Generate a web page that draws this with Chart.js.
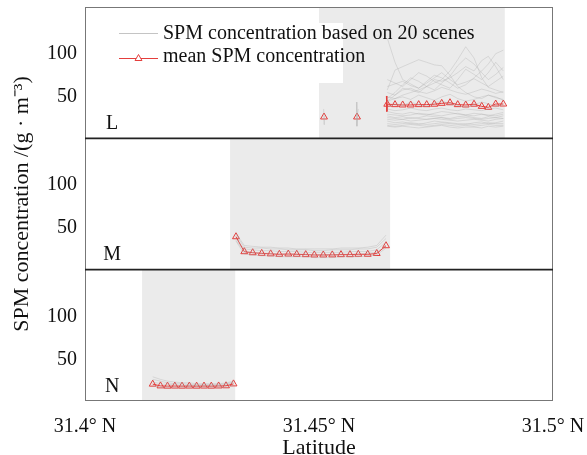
<!DOCTYPE html>
<html><head><meta charset="utf-8">
<script src="https://cdn.jsdelivr.net/npm/chart.js@4.4.1/dist/chart.umd.min.js"></script>
<style>html,body{margin:0;padding:0;background:#fff;}#wrap{width:587px;height:455px;}</style>
</head><body><div id="wrap"><canvas id="c" width="587" height="455"></canvas></div>
<script>
// ---------- data ----------
const xTickValues = [31.4, 31.45, 31.5];
const xTickLabels = ['31.4° N', '31.45° N', '31.5° N'];
const yTickValues = [50, 100];
const panelLetters = ['L', 'M', 'N'];
const legendLabels = ['SPM concentration based on 20 scenes', 'mean SPM concentration'];
const xTitle = 'Latitude';
const yTitle = 'SPM concentration /(g · m⁻³)';

// shaded latitude ranges of each panel
const shadeL = [31.4500, 31.4897];
const shadeM = [31.4310, 31.4652];
const shadeN = [31.4122, 31.4321];

// panel L
const latL = [31.46459, 31.46624, 31.46788, 31.46959, 31.47130, 31.47301, 31.47464, 31.47622,
              31.47799, 31.47964, 31.48135, 31.48312, 31.48477, 31.48618, 31.48776, 31.48938];
const meanL = [41.5, 41.0, 40.6, 40.6, 41.0, 41.0, 41.5, 42.5, 43.2, 41.0, 40.6, 41.5, 39.0, 37.9, 41.7, 41.7];
const spikeLat = [31.46440, 31.46450, 31.46462];
const spikeVal = [51, 33, 41.5];
const isoLat = [31.45107, 31.45812];
const isoMean = [26.7, 26.7];
const isoSceneLat1 = [31.45100, 31.45107, 31.45115];
const isoSceneVal1 = [36, 18, 28];
const isoSceneLat2 = [31.45800, 31.45810, 31.45825, 31.45840];
const isoSceneVal2 = [44, 16, 31, 36];
const sceneL = [
  [22,20,21,19,18,20,22,21,20,19,18,20,21,19,20,22],
  [16,15,16,15,14,15,16,17,15,14,15,15,14,16,15,16],
  [28,26,27,25,26,28,27,26,25,27,28,26,25,27,26,28],
  [33,31,30,32,30,29,31,33,32,30,29,31,30,28,30,32],
  [19,18,19,20,19,18,19,20,19,18,19,18,19,20,19,19],
  [45,48,50,47,52,49,46,50,53,48,45,47,50,52,49,47],
  [55,52,58,60,56,54,57,61,58,55,53,56,59,57,54,56],
  [38,42,40,44,41,39,43,45,42,40,38,41,44,42,39,41],
  [58,81,85,89,93,90,87,86,75,62,55,50,48,52,50,46],
  [50,48,52,55,58,62,66,70,80,93,108,95,72,61,58,55],
  [45,52,60,58,55,62,70,68,72,78,85,80,92,97,85,70],
  [118,90,70,65,60,68,75,72,66,60,64,72,80,88,100,104],
  [70,66,62,70,78,74,68,64,60,70,82,76,70,78,90,80],
  [24,23,24,22,23,24,25,24,23,22,23,24,23,22,24,25],
  [30,29,28,29,31,30,29,28,30,31,29,28,30,29,28,30],
  [36,34,35,37,35,34,36,37,35,34,36,35,34,36,37,35],
  [26,25,24,26,25,24,25,26,24,25,26,25,24,25,26,25],
  [62,65,68,63,60,66,72,78,70,64,67,71,66,62,68,74],
  [17,16,17,18,17,16,17,18,17,16,17,16,17,18,17,17],
  [48,55,64,72,68,62,58,66,74,86,95,88,78,70,76,84]
];

// panel M
const latM = [31.43226, 31.43404, 31.43583, 31.43776, 31.43968, 31.44152, 31.44344, 31.44524, 31.44716,
              31.44900, 31.45092, 31.45284, 31.45470, 31.45662, 31.45840, 31.46041, 31.46233, 31.46432];
const meanM = [40.1, 22.8, 21.6, 20.9, 20.3, 19.8, 20.1, 19.8, 19.4, 19.0, 19.0, 19.1, 19.4, 19.4, 19.8, 19.8, 20.7, 29.7];
const sceneM = [
  [38,26,25,24,24,23,23,23,22,22,22,22,22,23,23,23,25,34],
  [42,28,27,27,26,26,25,25,25,24,24,25,25,25,26,26,28,38],
  [36,23,22,21,21,20,20,20,20,19,19,19,20,20,20,21,22,30],
  [44,30,29,28,28,27,27,26,26,26,26,26,27,27,27,28,30,42],
  [35,20,19,18,18,17,17,17,17,16,16,16,17,17,17,18,19,27]
];

// panel N
const latN = [31.41447, 31.41613, 31.41763, 31.41919, 31.42073, 31.42229,
              31.42385, 31.42543, 31.42699, 31.42855, 31.43013, 31.43173];
const meanN = [21.5, 19.5, 19.2, 19.3, 19.2, 19.3, 19.2, 19.3, 19.2, 19.4, 19.6, 21.8];
const sceneN = [
  [27,25,23,22,22,21,21,21,21,21,22,24],
  [24,22,21,21,20,20,20,20,20,20,21,23],
  [30,27,25,24,23,23,22,22,22,22,23,25],
  [20,18,18,18,18,18,18,18,18,18,18,20]
];

const letterLat = 31.4058;
const letterValue = 19;

// ---------- styles ----------
const RED = 'rgb(228,62,60)';
const SCENE = 'rgba(170,170,170,0.33)';
const SHADE = '#ebebeb';
const FONT = 'Liberation Serif';
Chart.defaults.font.family = FONT;
Chart.defaults.color = '#111';

const pts = (lats, vals) => lats.map((x, i) => ({x: x, y: vals[i]}));
const datasets = [];
function scene(axis, lats, vals) {
  datasets.push({yAxisID: axis, data: pts(lats, vals), borderColor: SCENE, borderWidth: 1,
    pointRadius: 0, tension: 0, fill: false});
}
sceneL.forEach(v => scene('yL', latL, v));
scene('yL', isoSceneLat1, isoSceneVal1);
scene('yL', isoSceneLat2, isoSceneVal2);
sceneM.forEach(v => scene('yM', latM, v));
sceneN.forEach(v => scene('yN', latN, v));

function mean(axis, lats, vals, showLine) {
  datasets.push({yAxisID: axis, data: pts(lats, vals), borderColor: RED, borderWidth: 1,
    showLine: showLine, pointStyle: 'triangle', pointRadius: 4, pointBorderWidth: 1,
    pointBorderColor: RED, pointBackgroundColor: 'rgba(0,0,0,0)', fill: false});
}
datasets.push({yAxisID: 'yL', data: pts(spikeLat, spikeVal), borderColor: RED, borderWidth: 1, pointRadius: 0});
mean('yL', latL, meanL, true);
mean('yL', isoLat, isoMean, false);
mean('yM', latM, meanM, true);
mean('yN', latN, meanN, true);

function yAxis(withTitle) {
  return {
    type: 'linear', position: 'left', stack: 'panels', stackWeight: 1, min: 2, max: 154,
    grid: {display: false, drawTicks: false}, border: {display: false},
    afterBuildTicks: s => { s.ticks = yTickValues.map(v => ({value: v})); },
    ticks: {font: {size: 20}, color: '#111', padding: 8},
    title: {display: withTitle, text: yTitle, font: {size: 22}, color: '#111', padding: {top: 9, bottom: 0}},
    afterFit: s => { s.width = 85; s.paddingTop = 0; s.paddingBottom = 0; }
  };
}

const panelPlugin = {
  id: 'panels',
  beforeDatasetsDraw(chart) {
    const {ctx, scales} = chart;
    const x = scales.x;
    ctx.save();
    ctx.fillStyle = SHADE;
    [['yL', shadeL], ['yM', shadeM], ['yN', shadeN]].forEach(([id, r]) => {
      const y = scales[id];
      const x0 = x.getPixelForValue(r[0]), x1 = x.getPixelForValue(r[1]);
      ctx.fillRect(x0, y.top, x1 - x0, y.bottom - y.top);
    });
    ctx.restore();
  },
  afterDraw(chart) {
    const {ctx, chartArea: a, scales} = chart;
    ctx.save();
    // letters
    ctx.fillStyle = '#111';
    ctx.font = '20px "' + FONT + '"';
    ctx.textAlign = 'center';
    ctx.textBaseline = 'middle';
    ['yL', 'yM', 'yN'].forEach((id, i) => {
      ctx.fillText(panelLetters[i], scales.x.getPixelForValue(letterLat), scales[id].getPixelForValue(letterValue));
    });
    // legend
    ctx.fillStyle = '#fff';
    ctx.fillRect(a.left + 24, a.top + 16, 343 - a.left - 24, 60);
    ctx.lineWidth = 1;
    ctx.strokeStyle = '#c4c4c4';
    ctx.beginPath(); ctx.moveTo(a.left + 34, a.top + 26.5); ctx.lineTo(a.left + 73, a.top + 26.5); ctx.stroke();
    ctx.strokeStyle = RED;
    ctx.beginPath(); ctx.moveTo(a.left + 34, a.top + 51.5); ctx.lineTo(a.left + 73, a.top + 51.5); ctx.stroke();
    Chart.helpers.drawPoint(ctx, {pointStyle: 'triangle', radius: 4, borderWidth: 1}, a.left + 53.5, a.top + 51.5);
    ctx.fillStyle = '#111';
    ctx.textAlign = 'left';
    ctx.fillText(legendLabels[0], a.left + 78, a.top + 27);
    ctx.fillText(legendLabels[1], a.left + 78, a.top + 50);
    // frame
    ctx.strokeStyle = '#777';
    ctx.lineWidth = 1;
    ctx.strokeRect(a.left + 0.5, a.top + 0.5, a.right - a.left - 1, a.bottom - a.top - 1);
    ctx.strokeStyle = '#222';
    ctx.lineWidth = 1.6;
    [scales.yL.bottom, scales.yM.bottom].forEach(y => {
      ctx.beginPath(); ctx.moveTo(a.left, y); ctx.lineTo(a.right, y); ctx.stroke();
    });
    ctx.restore();
  }
};

new Chart(document.getElementById('c'), {
  type: 'line',
  data: {datasets: datasets},
  options: {
    responsive: false, animation: false,
    layout: {padding: {top: 7, right: 34, left: 0, bottom: 0}},
    plugins: {legend: {display: false}, tooltip: {enabled: false}},
    scales: {
      x: {
        type: 'linear', position: 'bottom', min: 31.4, max: 31.5,
        grid: {display: false, drawTicks: false}, border: {display: false},
        afterBuildTicks: s => { s.ticks = xTickValues.map(v => ({value: v})); },
        ticks: {callback: (v, i) => xTickLabels[i], font: {size: 20}, color: '#111', padding: 14, maxRotation: 0, autoSkip: false},
        title: {display: true, text: xTitle, font: {size: 22}, color: '#111', padding: {top: 0, bottom: -6}},
        afterFit: s => { s.height = 54; s.paddingLeft = 0; s.paddingRight = 0; }
      },
      // stacked axes are placed bottom-up in declaration order
      yN: yAxis(false),
      yM: yAxis(true),
      yL: yAxis(false)
    }
  },
  plugins: [panelPlugin]
});
</script>
</body></html>
